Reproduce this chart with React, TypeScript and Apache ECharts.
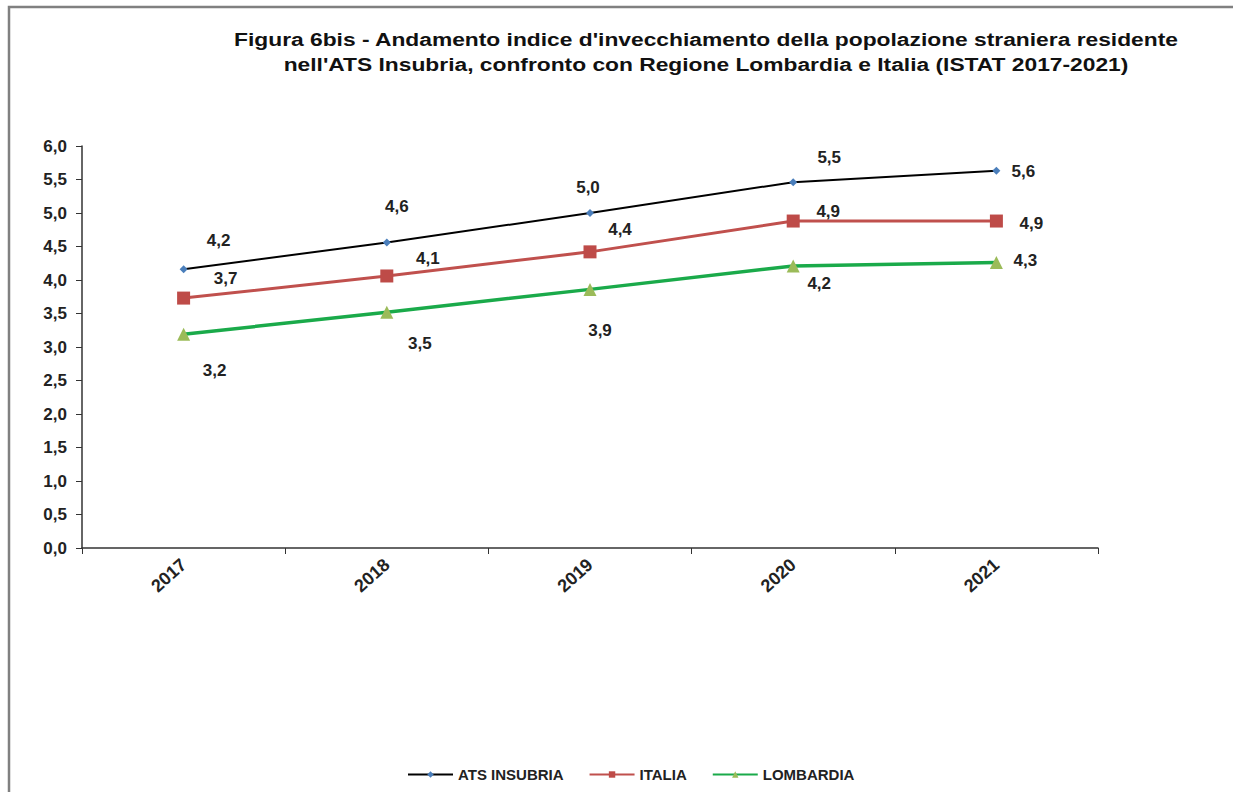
import React, { useEffect, useRef } from "react";
import * as echarts from "echarts";

const years = ["2017", "2018", "2019", "2020", "2021"];
const atsInsubria = [4.16, 4.56, 5.0, 5.46, 5.63];
const italia = [3.73, 4.06, 4.42, 4.88, 4.88];
const lombardia = [3.19, 3.52, 3.86, 4.21, 4.26];
const yTicks = [0, 0.5, 1, 1.5, 2, 2.5, 3, 3.5, 4, 4.5, 5, 5.5, 6];

const titleLines = [
  "Figura 6bis - Andamento indice d'invecchiamento della popolazione straniera residente",
  "nell'ATS Insubria, confronto con Regione Lombardia e Italia (ISTAT 2017-2021)",
];

// label offsets (style only)
const atsOffsets = [[35, -29], [10, -36], [-2, -26], [36, -25], [27, 1]];
const itaOffsets = [[42, -20], [41, -17], [30, -22], [35, -10], [35, 2]];
const lomOffsets = [[31, 36], [33, 31], [10, 41], [26, 18], [29, -2]];

const FONT = "'Liberation Sans', Arial, sans-serif";
const fmt = (v: number) => v.toFixed(1).replace(".", ",");

function buildData(values: number[], offsets: number[][]) {
  return values.map((v, i) => ({
    value: v,
    label: { offset: offsets[i] },
  }));
}

export default function App() {
  const ref = useRef<HTMLDivElement>(null);
  useEffect(() => {
    if (!ref.current) return;
    const chart = echarts.init(ref.current, null, { renderer: "svg" });
    const labelStyle = {
      show: true,
      position: "inside",
      formatter: (p: any) => fmt(p.value),
      fontFamily: FONT,
      fontWeight: "bold",
      fontSize: 17,
      color: "#222",
    };
    chart.setOption({
      animation: false,
      backgroundColor: "#fff",
      graphic: [
        {
          type: "polyline",
          shape: { points: [[9, 792], [9, 7], [1233, 7]] },
          style: { fill: "none", stroke: "#808080", lineWidth: 2.5 },
          silent: true,
        },
        {
          type: "text",
          x: 706,
          y: 27,
          scaleX: 1.2,
          style: {
            text: titleLines.join("\n"),
            font: `bold 19px ${FONT}`,
            fill: "#111",
            align: "center",
            lineHeight: 25,
          },
        },
      ],
      grid: { left: 82, right: 135, top: 146, bottom: 244, containLabel: false },
      legend: {
        left: 402,
        top: 762,
        itemWidth: 45,
        itemHeight: 8,
        itemGap: 25,
        textStyle: { fontFamily: FONT, fontWeight: "bold", fontSize: 15, color: "#222" },
        data: ["ATS INSUBRIA", "ITALIA", "LOMBARDIA"],
      },
      xAxis: {
        type: "category",
        data: years,
        boundaryGap: true,
        axisLine: { lineStyle: { color: "#333", width: 1.5 } },
        axisTick: { show: true, length: 6, lineStyle: { color: "#333" } },
        axisLabel: {
          rotate: 42,
          margin: 14,
          fontFamily: FONT,
          fontWeight: "bold",
          fontSize: 18,
          color: "#222",
        },
      },
      yAxis: {
        type: "value",
        min: 0,
        max: 6,
        interval: 0.5,
        axisLine: { show: true, lineStyle: { color: "#333", width: 1.5 } },
        axisTick: { show: true, length: 6, lineStyle: { color: "#333" } },
        splitLine: { show: false },
        axisLabel: {
          margin: 15,
          fontFamily: FONT,
          fontWeight: "bold",
          fontSize: 17,
          color: "#222",
          formatter: (v: number) => (yTicks.includes(v) ? fmt(v) : ""),
        },
      },
      series: [
        {
          name: "ATS INSUBRIA",
          type: "line",
          data: buildData(atsInsubria, atsOffsets),
          symbol: "diamond",
          symbolSize: 8,
          itemStyle: { color: "#4a7ebb" },
          lineStyle: { color: "#000", width: 2 },
          label: labelStyle,
          z: 4,
        },
        {
          name: "ITALIA",
          type: "line",
          data: buildData(italia, itaOffsets),
          symbol: "rect",
          symbolSize: 13,
          itemStyle: { color: "#be4b48" },
          lineStyle: { color: "#c0504d", width: 3 },
          label: labelStyle,
          z: 3,
        },
        {
          name: "LOMBARDIA",
          type: "line",
          data: buildData(lombardia, lomOffsets),
          symbol: "triangle",
          symbolSize: 13,
          itemStyle: { color: "#9bbb59" },
          lineStyle: { color: "#1aaa4a", width: 3.5 },
          label: labelStyle,
          z: 2,
        },
      ],
    });
    return () => chart.dispose();
  }, []);
  return (
    <div
      ref={ref}
      style={{ position: "fixed", left: 0, top: 0, width: 1233, height: 792 }}
    />
  );
}
